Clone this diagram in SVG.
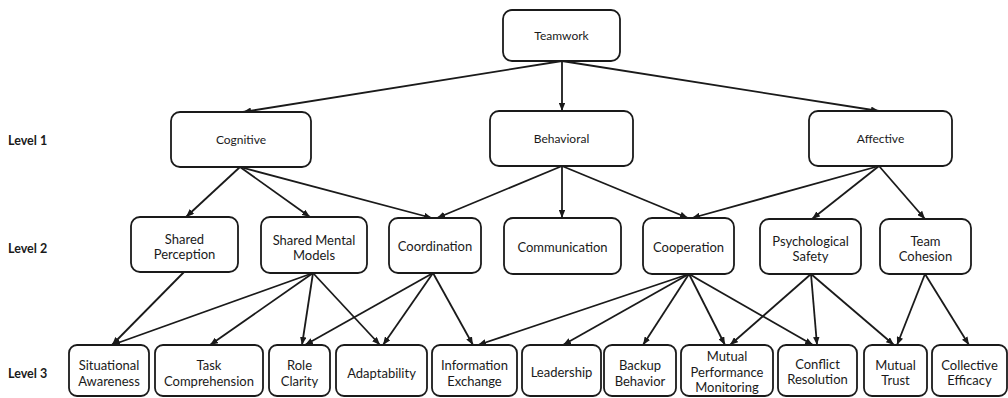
<svg xmlns="http://www.w3.org/2000/svg" width="1008" height="398" viewBox="0 0 1008 398">
<style>
.box{fill:#fff;stroke:#1a1a1a;stroke-width:1.8}
.t{font-family:Lato,"Liberation Sans",sans-serif;fill:#1a1a1a;text-anchor:middle;font-size:13px}
.t1{font-size:12px}
.lv{font-family:Lato,"Liberation Sans",sans-serif;font-weight:bold;font-size:12.5px;fill:#1a1a1a}
.c line{stroke:#1a1a1a;stroke-width:1.8;marker-end:url(#ah)}
</style>
<defs>
<marker id="ah" viewBox="0 0 10 8" refX="10" refY="4" markerWidth="4.5" markerHeight="3.6" orient="auto" markerUnits="strokeWidth">
<path d="M0,0 L10,4 L0,8 z" fill="#1a1a1a"/>
</marker>
</defs>
<rect width="1008" height="398" fill="#fff"/>
<g id="levels">
<text class="lv" x="8" y="145">Level 1</text>
<text class="lv" x="8" y="253">Level 2</text>
<text class="lv" x="8" y="378">Level 3</text>
</g>
<g class="c" id="connectors">
<line x1="562" y1="61" x2="243" y2="112"/>
<line x1="562" y1="61" x2="562" y2="111"/>
<line x1="562" y1="61" x2="879" y2="111"/>
<line x1="240" y1="167" x2="186" y2="217"/>
<line x1="240" y1="167" x2="310" y2="217"/>
<line x1="240" y1="167" x2="432" y2="218"/>
<line x1="562" y1="166" x2="437" y2="218"/>
<line x1="562" y1="166" x2="562" y2="218"/>
<line x1="562" y1="166" x2="688" y2="218"/>
<line x1="879" y1="166" x2="692" y2="218"/>
<line x1="879" y1="166" x2="812" y2="219"/>
<line x1="879" y1="166" x2="925" y2="219"/>
<line x1="184" y1="272" x2="112" y2="345"/>
<line x1="313" y1="273" x2="112" y2="345"/>
<line x1="313" y1="273" x2="210" y2="345"/>
<line x1="313" y1="273" x2="302" y2="345"/>
<line x1="313" y1="273" x2="380" y2="345"/>
<line x1="433" y1="273" x2="305" y2="345"/>
<line x1="433" y1="273" x2="383" y2="345"/>
<line x1="433" y1="273" x2="473" y2="345"/>
<line x1="689" y1="274" x2="478" y2="345"/>
<line x1="689" y1="274" x2="563" y2="345"/>
<line x1="689" y1="274" x2="643" y2="345"/>
<line x1="689" y1="274" x2="725" y2="345"/>
<line x1="689" y1="274" x2="813" y2="345"/>
<line x1="811" y1="274" x2="730" y2="345"/>
<line x1="811" y1="274" x2="817" y2="345"/>
<line x1="811" y1="274" x2="894" y2="345"/>
<line x1="925" y1="274" x2="897" y2="345"/>
<line x1="925" y1="274" x2="969" y2="345"/>
</g>
<g id="teamwork"><rect class="box" x="503" y="10" width="117" height="51" rx="9"/><text class="t t1" x="561.5" y="40">Teamwork</text></g>
<g id="cognitive"><rect class="box" x="171" y="112" width="140" height="55" rx="9"/><text class="t t1" x="241" y="144">Cognitive</text></g>
<g id="behavioral"><rect class="box" x="490" y="111" width="143" height="55" rx="9"/><text class="t t1" x="561.5" y="143">Behavioral</text></g>
<g id="affective"><rect class="box" x="809" y="111" width="143" height="55" rx="9"/><text class="t t1" x="880.5" y="143">Affective</text></g>
<g id="shared-perception"><rect class="box" x="131" y="217" width="107" height="55" rx="9"/><text class="t" x="184.5" y="244">Shared</text><text class="t" x="184.5" y="259">Perception</text></g>
<g id="shared-mental-models"><rect class="box" x="261" y="217" width="106" height="56" rx="9"/><text class="t" x="314" y="245">Shared Mental</text><text class="t" x="314" y="260">Models</text></g>
<g id="coordination"><rect class="box" x="389" y="218" width="92" height="55" rx="9"/><text class="t" x="435" y="251">Coordination</text></g>
<g id="communication"><rect class="box" x="504" y="218" width="117" height="56" rx="9"/><text class="t" x="562.5" y="252">Communication</text></g>
<g id="cooperation"><rect class="box" x="643" y="218" width="91" height="56" rx="9"/><text class="t" x="688.5" y="252">Cooperation</text></g>
<g id="psychological-safety"><rect class="box" x="760" y="219" width="101" height="55" rx="9"/><text class="t" x="810.5" y="246">Psychological</text><text class="t" x="810.5" y="261">Safety</text></g>
<g id="team-cohesion"><rect class="box" x="880" y="219" width="91" height="55" rx="9"/><text class="t" x="925.5" y="246">Team</text><text class="t" x="925.5" y="261">Cohesion</text></g>
<g id="situational-awareness"><rect class="box" x="69" y="345" width="80" height="51" rx="8"/><text class="t" x="109" y="370">Situational</text><text class="t" x="109" y="386">Awareness</text></g>
<g id="task-comprehension"><rect class="box" x="155" y="345" width="108" height="51" rx="8"/><text class="t" x="209" y="370">Task</text><text class="t" x="209" y="386">Comprehension</text></g>
<g id="role-clarity"><rect class="box" x="269" y="345" width="61" height="51" rx="8"/><text class="t" x="299.5" y="370">Role</text><text class="t" x="299.5" y="386">Clarity</text></g>
<g id="adaptability"><rect class="box" x="336" y="345" width="91" height="51" rx="8"/><text class="t" x="381.5" y="378">Adaptability</text></g>
<g id="information-exchange"><rect class="box" x="432" y="345" width="85" height="51" rx="8"/><text class="t" x="474.5" y="370">Information</text><text class="t" x="474.5" y="386">Exchange</text></g>
<g id="leadership"><rect class="box" x="522" y="345" width="79" height="51" rx="8"/><text class="t" x="561.5" y="377">Leadership</text></g>
<g id="backup-behavior"><rect class="box" x="604" y="345" width="72" height="51" rx="8"/><text class="t" x="640" y="370">Backup</text><text class="t" x="640" y="386">Behavior</text></g>
<g id="mutual-performance-monitoring"><rect class="box" x="681" y="345" width="92" height="51" rx="8"/><text class="t" x="727" y="361">Mutual</text><text class="t" x="727" y="377">Performance</text><text class="t" x="727" y="392">Monitoring</text></g>
<g id="conflict-resolution"><rect class="box" x="778" y="345" width="79" height="51" rx="8"/><text class="t" x="817.5" y="369">Conflict</text><text class="t" x="817.5" y="384">Resolution</text></g>
<g id="mutual-trust"><rect class="box" x="864" y="345" width="63" height="51" rx="8"/><text class="t" x="895.5" y="370">Mutual</text><text class="t" x="895.5" y="385">Trust</text></g>
<g id="collective-efficacy"><rect class="box" x="932" y="345" width="75" height="51" rx="8"/><text class="t" x="969.5" y="370">Collective</text><text class="t" x="969.5" y="385">Efficacy</text></g>
</svg>
